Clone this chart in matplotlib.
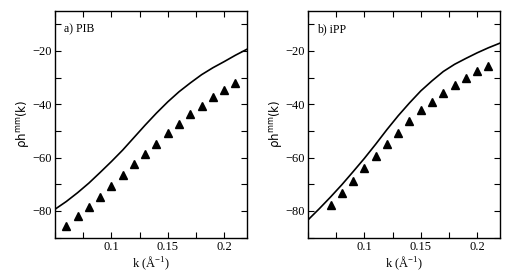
import numpy as np
import matplotlib
matplotlib.use('Agg')
import matplotlib.pyplot as plt
from matplotlib.ticker import MultipleLocator

# theory curves (solid lines), k in 1/Angstrom
k_line = [0.05, 0.06, 0.07, 0.08, 0.09, 0.10, 0.11, 0.12, 0.13,
          0.14, 0.15, 0.16, 0.17, 0.18, 0.19, 0.20, 0.21, 0.22]
pib_line = [-79.4, -76.5, -73.2, -69.6, -65.6, -61.5, -57.2, -52.5, -47.8,
            -43.3, -39.1, -35.3, -32.0, -28.9, -26.3, -24.0, -21.6, -19.4]
ipp_line = [-83.4, -79.2, -74.8, -70.2, -65.3, -60.3, -55.0, -49.5, -44.3,
            -39.5, -35.0, -31.2, -27.7, -25.0, -22.8, -20.7, -18.8, -17.1]

# simulation points (triangles)
k_pib = [0.06, 0.07, 0.08, 0.09, 0.10, 0.11, 0.12, 0.13,
         0.14, 0.15, 0.16, 0.17, 0.18, 0.19, 0.20, 0.21]
pib_pts = [-85.5, -82.1, -78.6, -74.9, -70.8, -66.7, -62.6, -58.8,
           -54.8, -50.9, -47.3, -43.8, -40.6, -37.3, -34.6, -31.9]
k_ipp = [0.07, 0.08, 0.09, 0.10, 0.11, 0.12, 0.13,
         0.14, 0.15, 0.16, 0.17, 0.18, 0.19, 0.20, 0.21]
ipp_pts = [-77.9, -73.3, -68.7, -64.1, -59.4, -54.9, -50.6,
           -46.4, -42.3, -39.0, -35.7, -32.8, -30.0, -27.7, -25.6]

panel_labels = ['a) PIB', 'b) iPP']

serif = 'Liberation Serif'
fig = plt.figure(figsize=(5.29, 2.79), dpi=100)
ax1 = fig.add_axes([55 / 529, 1 - 237.5 / 279, 191.7 / 529, 226.5 / 279])
ax2 = fig.add_axes([308 / 529, 1 - 237.5 / 279, 191.7 / 529, 226.5 / 279])

data = [(ax1, pib_line, k_pib, pib_pts), (ax2, ipp_line, k_ipp, ipp_pts)]
for (ax, line, kp, pts), lab in zip(data, panel_labels):
    ax.plot(k_line, line, color='black', lw=1.2)
    ax.plot(kp, pts, '^', color='black', ms=5.5, mec='black')
    ax.set_xlim(0.05, 0.22)
    ax.set_ylim(-90, -5)
    ax.xaxis.set_minor_locator(MultipleLocator(0.025))
    ax.yaxis.set_major_locator(MultipleLocator(20))
    ax.yaxis.set_minor_locator(MultipleLocator(10))
    ax.set_xticks([0.1, 0.15, 0.2])
    ax.set_xticklabels(['0.1', '0.15', '0.2'])
    ax.tick_params(which='both', direction='in', top=True, right=True,
                   labelsize=9, pad=2.5)
    ax.tick_params(which='both', length=4, width=0.8)
    for t in ax.get_xticklabels() + ax.get_yticklabels():
        t.set_family(serif)
    for s in ax.spines.values():
        s.set_linewidth(1.0)
    ax.text(0.045, 0.945, lab, transform=ax.transAxes, family=serif,
            fontsize=8.5, va='top', ha='left')
    ax.set_xlabel(r'k ($\mathregular{\AA^{-1}}$)', family=serif, fontsize=9,
                  labelpad=1)
    ax.set_ylabel(r'$\mathregular{\rho h^{mm}(k)}$', fontsize=8.5, labelpad=1)

fig.savefig('out.png', dpi=100)
